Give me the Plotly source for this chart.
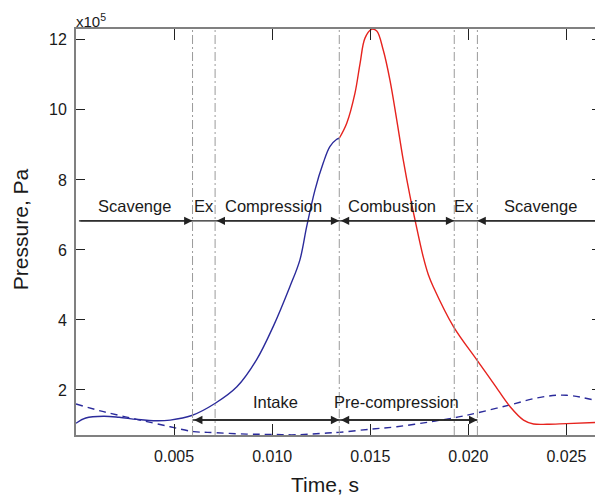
import plotly.graph_objects as go

# ---- data (pressure in units of 1e5 Pa, time in s) ----
t_comp = [0, 0.0005, 0.0014, 0.0022, 0.0031, 0.0041, 0.0048, 0.0059, 0.0071, 0.0082,
          0.0092, 0.01005, 0.0109, 0.01141, 0.01176, 0.01218, 0.0126, 0.01294, 0.01329, 0.01342]
p_comp = [1.05, 1.20, 1.25, 1.22, 1.16, 1.12, 1.14, 1.27, 1.62, 2.09,
          2.86, 3.81, 4.95, 5.71, 6.67, 7.71, 8.48, 8.95, 9.16, 9.19]

t_comb = [0.01342, 0.0138, 0.01422, 0.01448, 0.01473, 0.01507, 0.01533, 0.01566, 0.016, 0.01635,
          0.01668, 0.01703, 0.01728, 0.0177, 0.01796, 0.01821, 0.01924, 0.02043, 0.02128, 0.02213,
          0.02281, 0.02332, 0.0240, 0.0250, 0.0268]
p_comb = [9.19, 9.62, 10.48, 11.33, 12.05, 12.30, 12.25, 11.71, 10.86, 9.71,
          8.57, 7.52, 6.86, 5.80, 5.29, 4.95, 3.81, 2.86, 2.19, 1.52,
          1.14, 1.03, 1.02, 1.04, 1.08]

t_scav = [0, 0.0014, 0.0031, 0.0048, 0.006, 0.0067, 0.0087, 0.0100, 0.0112, 0.0128,
          0.0134, 0.0150, 0.01635, 0.01805, 0.0195, 0.0204, 0.0221, 0.02366, 0.0250, 0.0268]
p_scav = [1.60, 1.38, 1.16, 0.95, 0.81, 0.79, 0.74, 0.73, 0.72, 0.77,
          0.79, 0.88, 0.95, 1.09, 1.23, 1.34, 1.57, 1.79, 1.85, 1.66]

phase_t = [0.00594, 0.00709, 0.01342, 0.01928, 0.02046]

top_labels = ["Scavenge", "Ex", "Compression", "Combustion", "Ex", "Scavenge"]
top_label_t = [0.0030, 0.0065, 0.01005, 0.0161, 0.0198, 0.02366]
bottom_labels = ["Intake", "Pre-compression"]
bottom_label_t = [0.01018, 0.01635]

x_ticks = [0.005, 0.010, 0.015, 0.020, 0.025]
x_tick_text = ["0.005", "0.010", "0.015", "0.020", "0.025"]
y_ticks = [2, 4, 6, 8, 10, 12]
y_tick_text = ["2", "4", "6", "8", "10", "12"]

X_MAX = 0.02676
Y_MIN, Y_MAX = 0.714, 12.31
Y_TOP_ARROW = 6.83
Y_BOT_ARROW = 1.143

BLUE = "#2b2b9b"
RED = "#e6231e"
FONT = "Liberation Sans, Arial, sans-serif"
INK = "#1a1a1a"

fig = go.Figure()
fig.add_trace(go.Scatter(x=t_scav, y=p_scav, mode="lines",
                         line=dict(color=BLUE, width=1.4, dash="7px,5px", shape="spline", smoothing=1)))
fig.add_trace(go.Scatter(x=t_comp, y=p_comp, mode="lines",
                         line=dict(color=BLUE, width=1.4, shape="spline", smoothing=1)))
fig.add_trace(go.Scatter(x=t_comb, y=p_comb, mode="lines",
                         line=dict(color=RED, width=1.4, shape="spline", smoothing=1)))

shapes = []
for t in phase_t:
    shapes.append(dict(type="line", xref="x", yref="y", x0=t, x1=t, y0=Y_MIN, y1=Y_MAX,
                       line=dict(color="#9a9a9a", width=1, dash="9px,3px,2px,3px")))
shapes.append(dict(type="line", xref="x", yref="y", x0=0.00015, x1=X_MAX, y0=Y_TOP_ARROW, y1=Y_TOP_ARROW,
                   line=dict(color="#222222", width=1.3)))
shapes.append(dict(type="line", xref="x", yref="y", x0=phase_t[0], x1=phase_t[4], y0=Y_BOT_ARROW, y1=Y_BOT_ARROW,
                   line=dict(color="#222222", width=1.3)))

annotations = []

def arrow(x_from, x_to, y, both):
    annotations.append(dict(x=x_to, y=y, ax=x_from, ay=y, xref="x", yref="y", axref="x", ayref="y",
                            text="", showarrow=True, arrowhead=2, arrowsize=1.2, arrowwidth=1.4,
                            arrowcolor="#222222", arrowside="end+start" if both else "end",
                            standoff=0, startstandoff=0))

arrow(0.00015, phase_t[0], Y_TOP_ARROW, False)
arrow(phase_t[1], phase_t[2], Y_TOP_ARROW, True)
arrow(phase_t[2], phase_t[3], Y_TOP_ARROW, True)
arrow(X_MAX - 0.00005, phase_t[4], Y_TOP_ARROW, False)
arrow(phase_t[0], phase_t[2], Y_BOT_ARROW, True)
arrow(phase_t[2], phase_t[4], Y_BOT_ARROW, True)

for lab, t in zip(top_labels, top_label_t):
    annotations.append(dict(x=t, y=Y_TOP_ARROW, xref="x", yref="y", text=lab, showarrow=False,
                            yshift=15, xanchor="center", yanchor="middle",
                            font=dict(family=FONT, size=16.5, color=INK)))
for lab, t in zip(bottom_labels, bottom_label_t):
    annotations.append(dict(x=t, y=Y_BOT_ARROW, xref="x", yref="y", text=lab, showarrow=False,
                            yshift=17.5, xanchor="center", yanchor="middle",
                            font=dict(family=FONT, size=16.5, color=INK)))

annotations.append(dict(x=0, y=1.022, xref="paper", yref="paper", text="x10<sup>5</sup>",
                        showarrow=False, xanchor="left", yanchor="middle", xshift=-2,
                        font=dict(family=FONT, size=15, color=INK)))
annotations.append(dict(x=0.474, y=-0.1207, xref="paper", yref="paper", text="Time, s",
                        showarrow=False, xanchor="center", yanchor="middle",
                        font=dict(family=FONT, size=21, color=INK)))
annotations.append(dict(x=-0.1067, y=0.507, xref="paper", yref="paper", text="Pressure, Pa",
                        showarrow=False, xanchor="center", yanchor="middle", textangle=-90,
                        font=dict(family=FONT, size=21, color=INK)))

# the page body adds an 8px offset; size the figure so that the plot area lands where the reference has it
fig.update_layout(
    width=595, height=487,
    margin=dict(l=68, r=2, t=21, b=60, autoexpand=False),
    paper_bgcolor="white", plot_bgcolor="white",
    showlegend=False,
    shapes=shapes, annotations=annotations,
    font=dict(family=FONT, color=INK),
    xaxis=dict(range=[0, X_MAX], tickvals=x_ticks, ticktext=x_tick_text,
               ticks="inside", ticklen=11, tickwidth=1.2, tickcolor="#222222",
               showline=True, linecolor="#808080", linewidth=2, mirror="ticks",
               showgrid=False, zeroline=False, ticklabelstandoff=6, automargin=False,
               tickfont=dict(family=FONT, size=16, color=INK)),
    yaxis=dict(range=[Y_MIN, Y_MAX], tickvals=y_ticks, ticktext=y_tick_text,
               ticks="inside", ticklen=9, tickwidth=1.2, tickcolor="#222222",
               showline=True, linecolor="#808080", linewidth=2, mirror="ticks",
               showgrid=False, zeroline=False, ticklabelstandoff=4, automargin=False,
               tickfont=dict(family=FONT, size=16, color=INK)),
)

fig.write_html("out.html")
